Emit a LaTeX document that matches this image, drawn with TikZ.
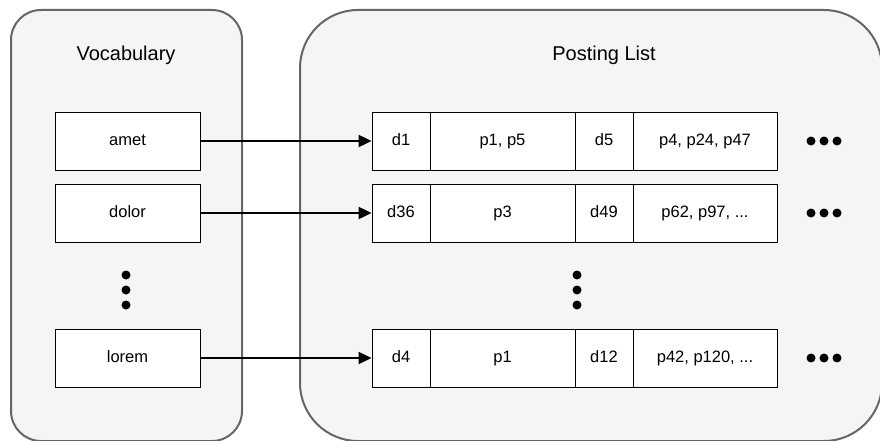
\documentclass[tikz,border=0pt]{standalone}
\usepackage{fontspec}
\setmainfont{Liberation Sans}
\usetikzlibrary{arrows.meta}
\definecolor{contfill}{HTML}{F5F5F5}
\definecolor{contline}{HTML}{666666}
\begin{document}
\begin{tikzpicture}[x=1pt,y=-1pt,
  container/.style={draw=contline,fill=contfill,line width=2pt},
  cell/.style={draw=black,fill=white,line width=0.9pt,minimum height=58pt,inner sep=0pt,font=\fontsize{16.5}{19}\selectfont,text height=12pt,text depth=3.5pt},
  ttl/.style={font=\fontsize{20}{24}\selectfont},
  conn/.style={draw=black,line width=2.2pt,-{Triangle[length=13pt,width=12pt]}},
  dotv/.style={fill=black,draw=none}]
\useasboundingbox (0,0) rectangle (880,441);
\begin{scope}
\clip (0,0) rectangle (880,441);
\draw[container,rounded corners=30pt] (11,10) rectangle (242,441);
\draw[container,rounded corners=58pt] (300,10) rectangle (882,441);
\end{scope}
\node[ttl] (tv) at (126,55) {Vocabulary};
\node[ttl] (tp) at (604,55) {Posting List};
% vocabulary
\node[cell,minimum width=145pt] (amet) at (127.5,141) {amet};
\node[cell,minimum width=145pt] (dolor) at (127.5,213) {dolor};
\node[cell,minimum width=145pt] (lorem) at (127.5,358) {lorem};
% rows
\foreach \r/\y/\a/\b/\c/\d in {1/141/d1/{p1, p5}/d5/{p4, p24, p47},2/213/d36/p3/d49/{p62, p97, ...},3/358/d4/p1/d12/{p42, p120, ...}}{
  \node[cell,minimum width=58pt] (r\r a) at (401,\y) {\a};
  \node[cell,minimum width=145pt] (r\r b) at (502.5,\y) {\b};
  \node[cell,minimum width=58pt] (r\r c) at (604,\y) {\c};
  \node[cell,minimum width=144pt] (r\r d) at (705,\y) {\d};
  \foreach \dx in {-13,0,13}{\fill[dotv] (824+\dx,\y) circle (4.5pt);}
}
\foreach \yy in {275,290,305}{
  \fill[dotv] (126,\yy) circle (4.5pt);
  \fill[dotv] (577,\yy) circle (4.5pt);
}
\draw[conn] (amet.east) -- (r1a.west);
\draw[conn] (dolor.east) -- (r2a.west);
\draw[conn] (lorem.east) -- (r3a.west);
\end{tikzpicture}
\end{document}
